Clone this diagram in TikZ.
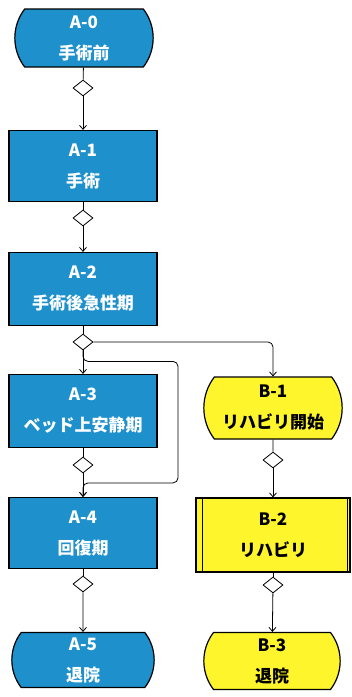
\documentclass[tikz,border=0pt]{standalone}
\usepackage{fontspec}
\setmainfont{Noto Sans CJK JP}
\usetikzlibrary{positioning,calc,shapes.geometric,shapes.misc,arrows.meta}

\definecolor{phaseblue}{RGB}{30,144,204}
\definecolor{rehabyellow}{RGB}{255,245,45}
\tikzstyle{block} = [draw, line width=1.2pt, fill=phaseblue, rectangle, minimum height=72pt, minimum width=148pt, text=white, align=center, font=\fontsize{17}{31}\selectfont\bfseries]
\tikzstyle{terminal} = [block, rounded rectangle, rounded rectangle arc length=75, inner ysep=1pt, minimum height=58pt, minimum width=145pt]
\tikzstyle{gate} = [draw, line width=0.8pt, fill=white, diamond, minimum width=20pt, minimum height=16pt, inner sep=0pt]
\tikzset{rehab/.style={fill=rehabyellow, text=black},
    subproc/.style={block, rehab, minimum width=154pt, minimum height=74pt,
    path picture={
        \draw[line width=0.8pt]
            ([xshift=6pt]path picture bounding box.north west) -- ([xshift=6pt]path picture bounding box.south west)
            ([xshift=-3pt]path picture bounding box.north east) -- ([xshift=-3pt]path picture bounding box.south east);
        }
    }
}

\begin{document}
\begin{tikzpicture}[x=1pt, y=-1pt, line width=0.8pt, >={Straight Barb[length=4pt,width=7pt]}]
        \useasboundingbox (0,0) rectangle (352,697);
        % A: surgery path
        \node [terminal] (a0) at (84,38) {A-0\\手術前};
        \node [gate] (d0) at (83,88) {};
        \node [block, minimum height=71pt] (a1) at (83,166) {A-1\\手術};
        \node [gate] (d1) at (83,218) {};
        \node [block, minimum height=73pt] (a2) at (83,289) {A-2\\手術後急性期};
        \node [gate] (d2) at (83,342) {};
        \node [block, minimum height=73pt] (a3) at (83,411) {A-3\\ベッド上安静期};
        \node [gate] (d3) at (83,465) {};
        \node [block, minimum height=71pt] (a4) at (83,533) {A-4\\回復期};
        \node [gate] (d4) at (83,584) {};
        \node [terminal, minimum height=55pt, minimum width=149pt] (a5) at (83,660) {A-5\\退院};
        % B: rehabilitation path
        \node [terminal, rehab, minimum height=62pt] (b1) at (273,408) {B-1\\リハビリ開始};
        \node [gate] (d5) at (273,460) {};
        \node [subproc] (b2) at (273,535) {B-2\\リハビリ};
        \node [gate] (d6) at (273,585) {};
        \node [terminal, rehab, minimum height=57pt, minimum width=143pt] (b3) at (272,661) {B-3\\退院};
        \coordinate (skip) at (178,420);

        \draw (a0) -- (d0);
        \draw [->] (d0) -- (a1);
        \draw (a1) -- (d1);
        \draw [->] (d1) -- (a2);
        \draw (a2) -- (d2);
        \draw [->] (d2) -- (a3);
        \draw (a3) -- (d3);
        \draw [->] (d3) -- (a4);
        \draw (a4) -- (d4);
        \draw [->] (d4) -- (a5);

        \draw [->, rounded corners=5pt] (d2.east) -| (b1.north);
        \draw [->, rounded corners=5pt] (d2.south) -- ++(0,11) -| (skip) |- ($(a4.north)+(0,-14)$) -- (a4.north);

        \draw (b1) -- (d5);
        \draw [->] (d5) -- (b2);
        \draw (b2) -- (d6);
        \draw [->] (d6) -- (b3);
    \end{tikzpicture}
\end{document}
